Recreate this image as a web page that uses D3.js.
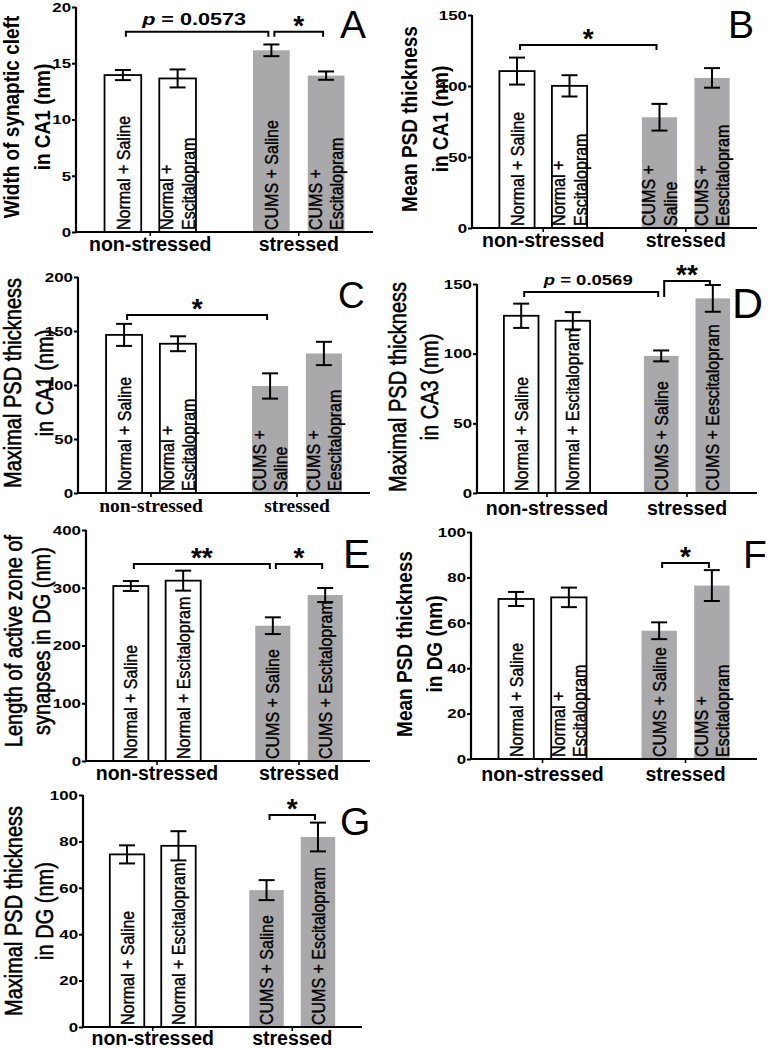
<!DOCTYPE html>
<html><head><meta charset="utf-8">
<script src="https://cdn.jsdelivr.net/npm/d3@7"></script>
<style>body{margin:0;background:#fff}svg{display:block}</style>
</head><body>
<svg id="chart" width="771" height="1048"></svg>
<script>
// ---------- data ----------
const panelIds = ["A","B","C","D","E","F","G"];
const groups = ["non-stressed","stressed"];
const treatments = ["Saline","Escitalopram"];
const yAxisLabels = [
  ["Width of synaptic cleft","in CA1 (nm)"],
  ["Mean PSD thickness","in CA1 (nm)"],
  ["Maximal PSD thickness","in CA1 (nm)"],
  ["Maximal PSD thickness","in CA3 (nm)"],
  ["Length of active zone of","synapses in DG (nm)"],
  ["Mean PSD thickness","in DG (nm)"],
  ["Maximal PSD thickness","in DG (nm)"]
];
const yMaxima = [20,150,200,150,400,100,100];
const yTickValues = [
  [0,5,10,15,20],[0,50,100,150],[0,50,100,150,200],[0,50,100,150],
  [0,100,200,300,400],[0,20,40,60,80,100],[0,20,40,60,80,100]
];

const meansA = [13.95,13.65,16.15,13.9],  semA = [0.45,0.8,0.52,0.37];
const meansB = [110.5,100.1,78,105.7],    semB = [9.5,7.5,9.4,6.9];
const meansC = [146.4,138.2,99.1,129.2],  semC = [10.2,6.9,11.7,10.8];
const meansD = [127.2,123.6,98.4,139.7],  semD = [8.7,6.2,3.9,9.6];
const meansE = [303,312.3,234.3,287.4],   semE = [8.6,17.3,14.5,12.2];
const meansF = [70.5,71.2,56.5,76.4],     semF = [3.1,4.3,3.7,6.8];
const meansG = [74.4,78.1,59,81.9],       semG = [3.9,6.3,4.3,6.2];

const barTextA = [["Normal + Saline"],["Normal +","Escitalopram"],["CUMS + Saline"],["CUMS +","Escitalopram"]];
const barTextB = [["Normal + Saline"],["Normal +","Escitalopram"],["CUMS +","Saline"],["CUMS +","Eescitalopram"]];
const barTextC = [["Normal + Saline"],["Normal +","Escitalopram"],["CUMS +","Saline"],["CUMS +","Eescitalopram"]];
const barTextD = [["Normal + Saline"],["Normal + Escitalopram"],["CUMS + Saline"],["CUMS + Eescitalopram"]];
const barTextE = [["Normal + Saline"],["Normal + Escitalopram"],["CUMS + Saline"],["CUMS + Escitalopram"]];
const barTextF = [["Normal + Saline"],["Normal +","Escitalopram"],["CUMS + Saline"],["CUMS +","Escitalopram"]];
const barTextG = [["Normal + Saline"],["Normal + Escitalopram"],["CUMS + Saline"],["CUMS + Escitalopram"]];

// significance brackets: bar indices, level in data units, label
const sigA = [{from:0,to:2,level:17.8,label:"p = 0.0573"},{from:2,to:3,level:17.8,label:"*"}];
const sigB = [{from:0,to:2,level:128.9,label:"*"}];
const sigC = [{from:0,to:2,level:164.8,label:"*"}];
const sigD = [{from:0,to:2,level:144.3,label:"p = 0.0569"},{from:2,to:3,level:152.2,label:"**"}];
const sigE = [{from:0,to:2,level:341,label:"**"},{from:2,to:3,level:341,label:"*"}];
const sigF = [{from:2,to:3,level:86.3,label:"*"}];
const sigG = [{from:2,to:3,level:91.4,label:"*"}];

const allMeans = [meansA,meansB,meansC,meansD,meansE,meansF,meansG];
const allSem = [semA,semB,semC,semD,semE,semF,semG];
const allBarText = [barTextA,barTextB,barTextC,barTextD,barTextE,barTextF,barTextG];
const allSig = [sigA,sigB,sigC,sigD,sigE,sigF,sigG];

// ---------- layout ----------
const layout = [
  {x0:76, x1:373, yTop:7,   yBot:232,  lab:[19,50],   labY:117, bold:true,  letter:[340,38,39],  gDy:19, serif:false, pSize:17.3},
  {x0:472,x1:757, yTop:15,  yBot:228,  lab:[417,448], labY:119, bold:true,  letter:[728,38,39],  gDy:19, serif:false, pSize:17},
  {x0:78, x1:370, yTop:277, yBot:493,  lab:[21,53],   labY:383, bold:false, letter:[338,308,37], gDy:19, serif:true,  pSize:17},
  {x0:477,x1:757, yTop:284, yBot:493,  lab:[406,438], labY:387, bold:false, letter:[732,318,43], gDy:22, serif:false, pSize:14.8},
  {x0:86, x1:370, yTop:530, yBot:761,  lab:[22,50],   labY:641, bold:false, letter:[343,568,41], gDy:19, serif:false, pSize:17},
  {x0:471,x1:757, yTop:532, yBot:759,  lab:[412,442], labY:644, bold:true,  letter:[743,568,39], gDy:22, serif:false, pSize:17},
  {x0:83, x1:362, yTop:795, yBot:1027, lab:[22,53],   labY:911, bold:false, letter:[340,835,39], gDy:18, serif:false, pSize:17}
];

const SANS = "'Liberation Sans', Arial, Helvetica, sans-serif";
const SERIF = "'Liberation Serif', 'Times New Roman', serif";
const GRAY = "#a9a9ab";
const ROT_STRETCH = 1.15;   // glyph height stretch of rotated texts
const NUM_STRETCH = 1.25;   // width stretch of numeric texts
const svg = d3.select("#chart");

panelIds.forEach((pid, pi) => {
  const L = layout[pi];
  const g = svg.append("g").attr("class","panel-"+pid);
  const y = d3.scaleLinear().domain([0, yMaxima[pi]]).range([L.yBot, L.yTop]);
  const xg = d3.scaleBand().domain(groups).range([L.x0, L.x1]).paddingInner(0.2).paddingOuter(0.1);
  const xi = d3.scaleBand().domain(treatments).range([0, xg.bandwidth()]).paddingInner(0.33).paddingOuter(0.25);

  const bars = allMeans[pi].map((m, i) => ({
    m, s: allSem[pi][i], grp: groups[Math.floor(i/2)], trt: treatments[i%2],
    text: allBarText[pi][i], stressed: i >= 2
  }));
  bars.forEach(b => { b.x = xg(b.grp) + xi(b.trt); b.cx = b.x + xi.bandwidth()/2; });

  // bars
  g.selectAll("rect.bar").data(bars).join("rect")
    .attr("class","bar")
    .attr("x", d => d.x).attr("width", xi.bandwidth())
    .attr("y", d => y(d.m)).attr("height", d => y(0) - y(d.m))
    .attr("fill", d => d.stressed ? GRAY : "#fff")
    .attr("stroke", d => d.stressed ? "none" : "#000")
    .attr("stroke-width", 1.8);

  // bar labels (rotated)
  const fs = 16, gap = 21.5;
  bars.forEach(b => {
    const n = b.text.length;
    b.text.forEach((t, li) => {
      const bx = b.cx + 0.36*fs*ROT_STRETCH + (li - (n-1)/2)*gap;
      g.append("text")
        .attr("transform", `translate(${bx},${y(0)-2}) rotate(-90) scale(1,${ROT_STRETCH})`)
        .attr("font-family", SANS).attr("font-size", fs)
        .attr("text-anchor","start").attr("fill","#000")
        .attr("stroke","#000").attr("stroke-width",0.35)
        .text(t);
    });
  });

  // error bars
  const cap = 8;
  const eb = g.selectAll("g.err").data(bars).join("g").attr("class","err")
    .attr("stroke","#000").attr("stroke-width",2).attr("fill","none");
  eb.append("line").attr("x1", d => d.cx).attr("x2", d => d.cx)
    .attr("y1", d => y(d.m + d.s)).attr("y2", d => y(d.m - d.s));
  eb.append("line").attr("x1", d => d.cx - cap).attr("x2", d => d.cx + cap)
    .attr("y1", d => y(d.m + d.s)).attr("y2", d => y(d.m + d.s));
  eb.append("line").attr("x1", d => d.cx - cap).attr("x2", d => d.cx + cap)
    .attr("y1", d => y(d.m - d.s)).attr("y2", d => y(d.m - d.s));

  // y axis
  const ya = g.append("g").attr("transform", `translate(${L.x0},0)`)
    .call(d3.axisLeft(y).tickValues(yTickValues[pi]).tickSize(4).tickPadding(0).tickFormat(d3.format("d")));
  ya.select(".domain").attr("stroke-width",2.2).attr("d", `M0,${L.yBot+1}V${L.yTop}`);
  ya.selectAll(".tick line").attr("stroke-width",2);
  ya.selectAll(".tick text").attr("font-family", SANS).attr("font-weight","bold").attr("font-size",13.5)
    .attr("fill","#000").attr("transform", `scale(${NUM_STRETCH},1)`);

  // x axis
  const xa = g.append("g").attr("transform", `translate(0,${L.yBot})`)
    .call(d3.axisBottom(xg).tickSize(4).tickSizeOuter(0).tickFormat(""));
  xa.select(".domain").attr("stroke-width",2.2).attr("d", `M${L.x0-1},0H${L.x1}`);
  xa.selectAll(".tick line").attr("stroke-width",1.6);

  // group labels
  groups.forEach(gr => {
    g.append("text")
      .attr("x", xg(gr) + xg.bandwidth()/2).attr("y", L.yBot + L.gDy)
      .attr("text-anchor","middle")
      .attr("font-family", L.serif ? SERIF : SANS).attr("font-weight","bold").attr("font-size",19.5)
      .text(gr);
  });

  // y axis label
  yAxisLabels[pi].forEach((t, li) => {
    g.append("text")
      .attr("transform", `translate(${L.lab[li]},${L.labY}) rotate(-90) scale(1,${ROT_STRETCH})`)
      .attr("text-anchor","middle")
      .attr("font-family", SANS).attr("font-weight", L.bold ? "bold" : "normal")
      .attr("font-size", L.bold ? 19 : 20)
      .attr("stroke", L.bold ? "none" : "#000").attr("stroke-width", 0.5)
      .text(t);
  });

  // significance brackets
  const sigs = allSig[pi];
  sigs.forEach(sg => {
    const xa1 = bars[sg.from].cx + 3, xb1 = bars[sg.to].cx - 3;
    const yy = y(sg.level);
    let leftEnd = yy + 5;
    sigs.forEach(o => { if (o !== sg && o.to === sg.from && y(o.level) > yy) leftEnd = y(o.level) + 5; });
    g.append("path")
      .attr("d", `M${xa1},${leftEnd}V${yy}H${xb1}V${yy+5}`)
      .attr("fill","none").attr("stroke","#000").attr("stroke-width",2);
    const mx = (xa1 + xb1)/2;
    if (sg.label.startsWith("p")) {
      const t = g.append("text")
        .attr("transform", `translate(${mx - 3},${yy - 7}) scale(${NUM_STRETCH},1)`)
        .attr("text-anchor","middle")
        .attr("font-family", SANS).attr("font-weight","bold").attr("font-size", L.pSize);
      t.append("tspan").attr("font-style","italic").text("p");
      t.append("tspan").text(sg.label.slice(1));
    } else {
      g.append("text").attr("x", mx).attr("y", yy + 3).attr("text-anchor","middle")
        .attr("font-family", SANS).attr("font-weight","bold").attr("font-size",28)
        .text(sg.label);
    }
  });

  // panel letter
  g.append("text").attr("x", L.letter[0]).attr("y", L.letter[1])
    .attr("font-family", SANS).attr("font-size", L.letter[2]).text(pid);
});
</script>
</body></html>
